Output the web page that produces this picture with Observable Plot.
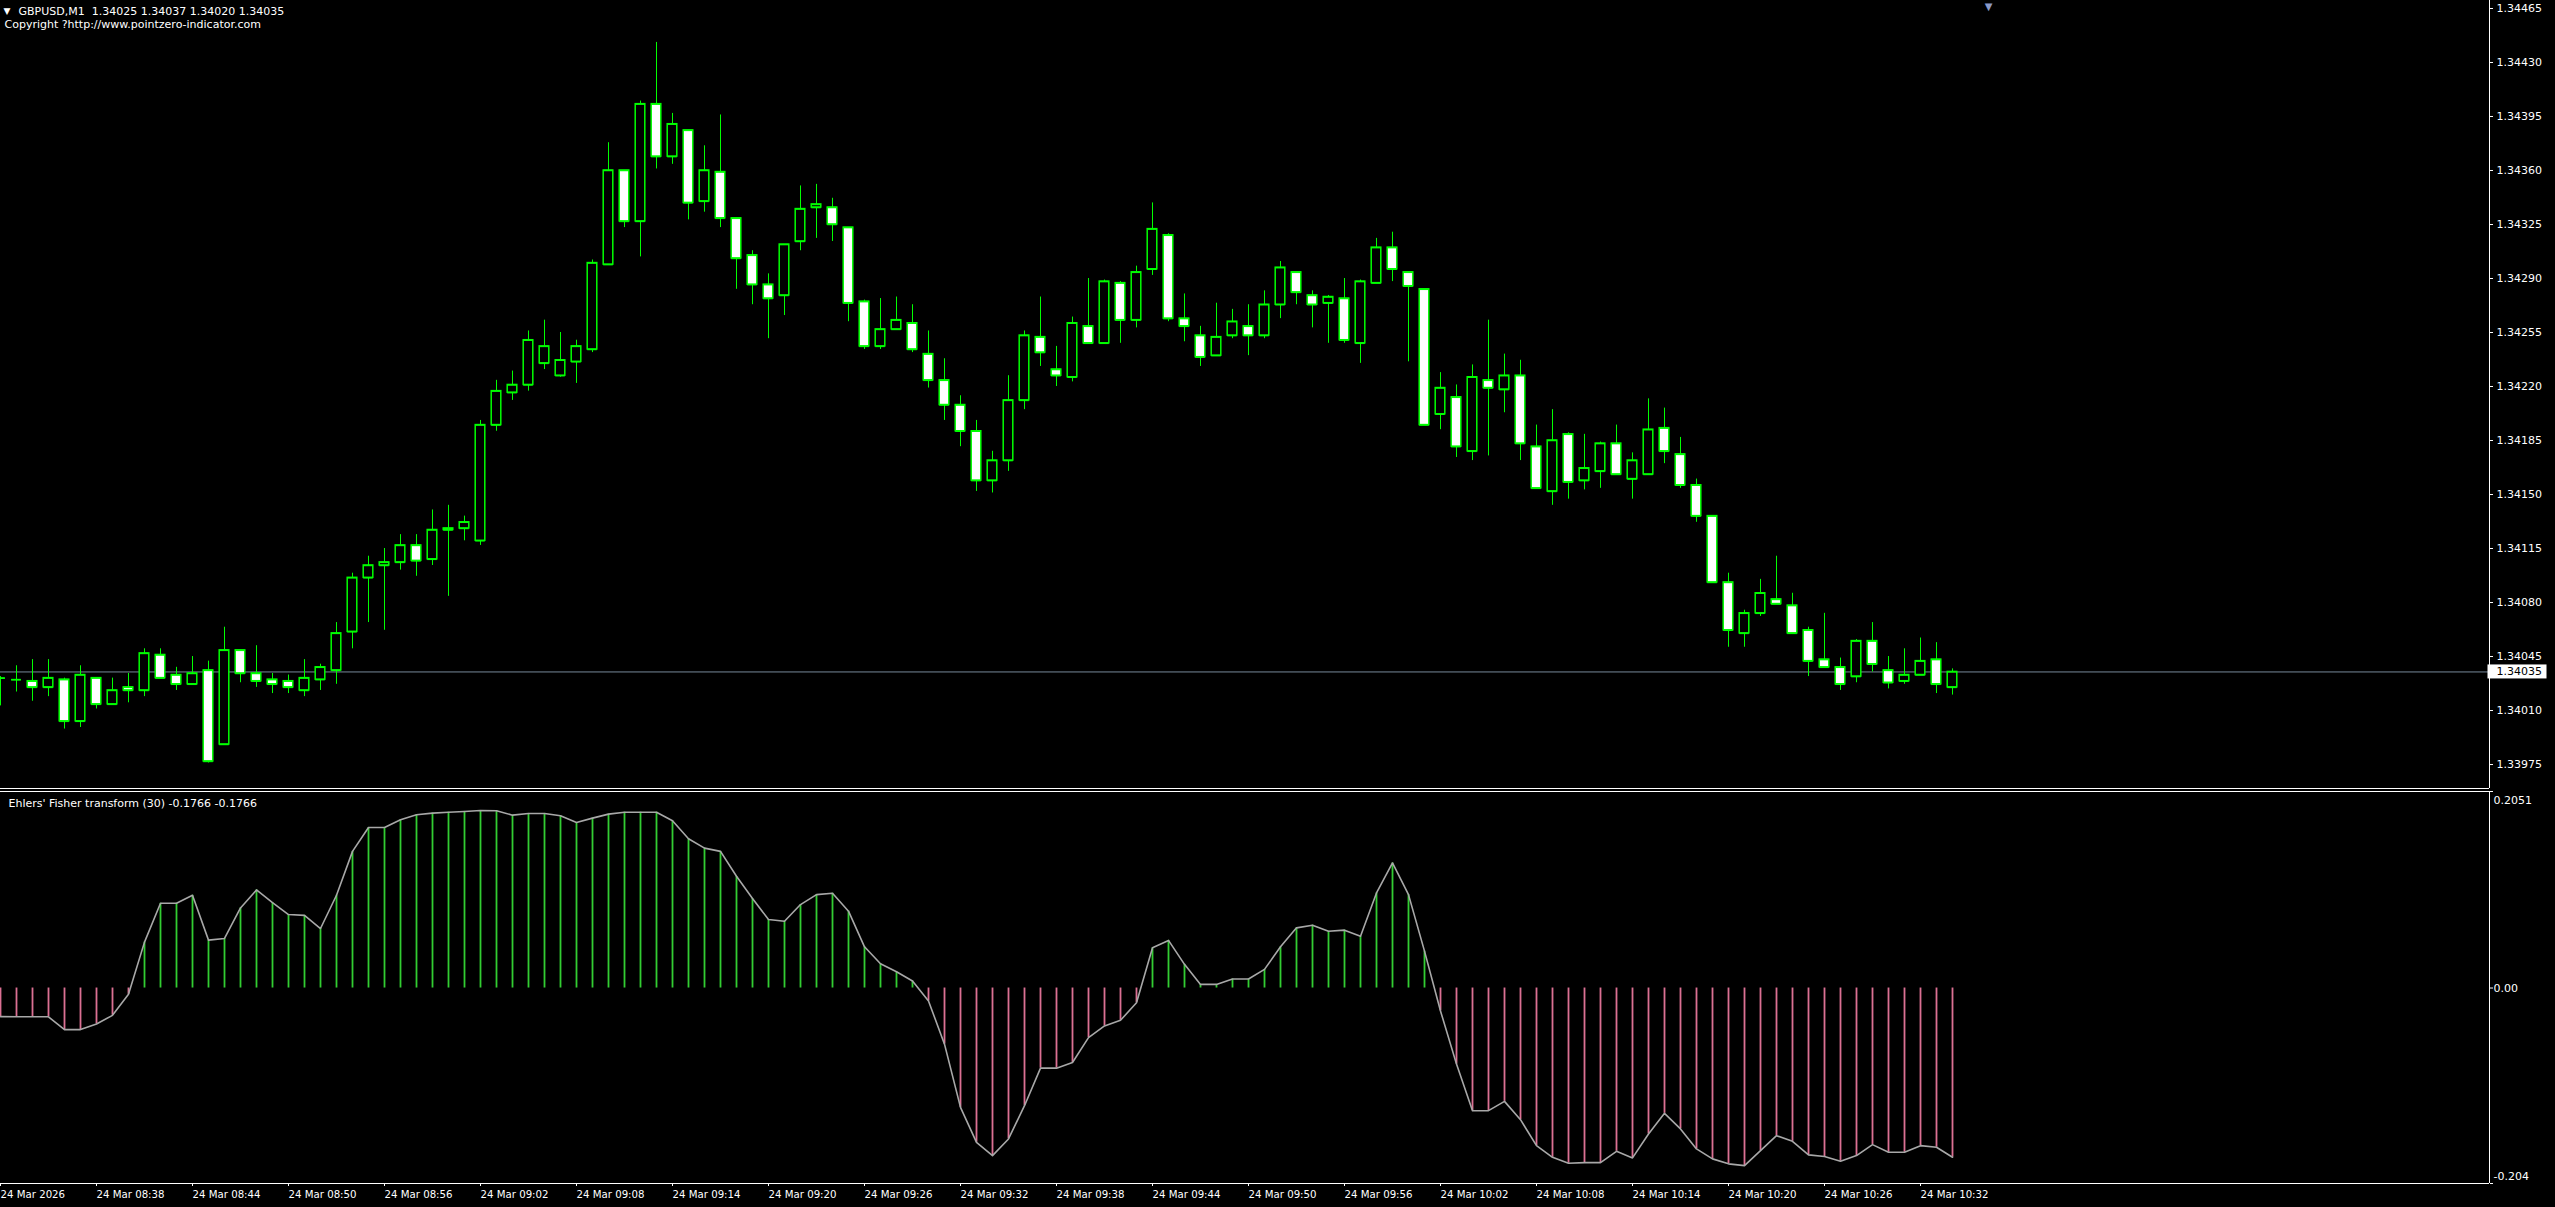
<!DOCTYPE html>
<html><head><meta charset="utf-8">
<script src="https://cdn.jsdelivr.net/npm/d3@7"></script>
<script src="https://cdn.jsdelivr.net/npm/@observablehq/plot@0.6"></script>
<style>
html,body{margin:0;padding:0;background:#000;}
#chart{position:relative;width:2555px;height:1207px;background:#000;overflow:hidden;}
#chart > div{position:absolute;left:0;}
#chart svg{display:block;}
</style></head><body><div id="chart"><div id="p1" style="top:0"></div><div id="p2" style="top:789px"></div></div>
<script>
// ---- data (GBPUSD M1, 24 Mar 2026, bars from 08:32 to 10:34) ----
const open = [1.34031,1.34030,1.34029,1.34025,1.34030,1.34003,1.34031,1.34014,1.34025,1.34023,
1.34046,1.34033,1.34027,1.34036,1.33988,1.34049,1.34034,1.34030,1.34029,1.34023,
1.34030,1.34036,1.34061,1.34096,1.34104,1.34106,1.34117,1.34108,1.34127,1.34128,
1.34120,1.34195,1.34216,1.34221,1.34235,1.34227,1.34236,1.34244,1.34299,1.34360,
1.34327,1.34403,1.34369,1.34386,1.34340,1.34359,1.34329,1.34305,1.34286,1.34279,
1.34314,1.34336,1.34336,1.34323,1.34275,1.34246,1.34257,1.34261,1.34241,1.34224,
1.34208,1.34191,1.34159,1.34172,1.34211,1.34252,1.34231,1.34226,1.34259,1.34248,
1.34287,1.34263,1.34296,1.34318,1.34264,1.34253,1.34240,1.34253,1.34259,1.34253,
1.34273,1.34294,1.34279,1.34274,1.34277,1.34248,1.34287,1.34310,1.34294,1.34283,
1.34202,1.34213,1.34178,1.34224,1.34218,1.34227,1.34181,1.34152,1.34189,1.34159,
1.34165,1.34183,1.34160,1.34163,1.34193,1.34176,1.34156,1.34136,1.34093,1.34060,
1.34073,1.34082,1.34078,1.34062,1.34043,1.34038,1.34032,1.34055,1.34036,1.34029,
1.34033,1.34043,1.34025];
const high = [1.34032,1.34039,1.34043,1.34043,1.34031,1.34039,1.34031,1.34031,1.34034,1.34050,
1.34050,1.34038,1.34045,1.34042,1.34064,1.34049,1.34052,1.34034,1.34033,1.34043,
1.34040,1.34067,1.34099,1.34110,1.34115,1.34124,1.34124,1.34140,1.34143,1.34136,
1.34198,1.34224,1.34230,1.34256,1.34263,1.34255,1.34250,1.34302,1.34378,1.34360,
1.34405,1.34443,1.34397,1.34386,1.34376,1.34396,1.34329,1.34308,1.34293,1.34312,
1.34350,1.34351,1.34342,1.34323,1.34276,1.34277,1.34278,1.34273,1.34256,1.34238,
1.34214,1.34198,1.34178,1.34227,1.34256,1.34278,1.34246,1.34265,1.34290,1.34289,
1.34288,1.34298,1.34339,1.34319,1.34280,1.34259,1.34274,1.34270,1.34273,1.34282,
1.34301,1.34294,1.34282,1.34279,1.34290,1.34289,1.34316,1.34320,1.34294,1.34283,
1.34229,1.34221,1.34234,1.34263,1.34241,1.34237,1.34195,1.34205,1.34190,1.34189,
1.34184,1.34195,1.34177,1.34212,1.34206,1.34187,1.34160,1.34136,1.34099,1.34075,
1.34095,1.34110,1.34086,1.34064,1.34073,1.34044,1.34056,1.34067,1.34045,1.34050,
1.34057,1.34054,1.34037];
const low = [1.34013,1.34022,1.34016,1.34019,1.33998,1.33999,1.34011,1.34014,1.34015,1.34019,
1.34031,1.34023,1.34027,1.33976,1.33988,1.34028,1.34025,1.34021,1.34021,1.34019,
1.34023,1.34027,1.34050,1.34067,1.34062,1.34101,1.34097,1.34104,1.34084,1.34120,
1.34117,1.34191,1.34211,1.34217,1.34231,1.34226,1.34222,1.34242,1.34299,1.34323,
1.34304,1.34361,1.34364,1.34328,1.34333,1.34323,1.34283,1.34273,1.34251,1.34266,
1.34308,1.34316,1.34314,1.34262,1.34244,1.34244,1.34257,1.34242,1.34219,1.34198,
1.34181,1.34152,1.34151,1.34165,1.34205,1.34233,1.34220,1.34223,1.34248,1.34248,
1.34248,1.34258,1.34292,1.34262,1.34249,1.34233,1.34240,1.34251,1.34240,1.34251,
1.34264,1.34273,1.34258,1.34248,1.34248,1.34235,1.34287,1.34288,1.34236,1.34195,
1.34192,1.34174,1.34172,1.34175,1.34203,1.34172,1.34154,1.34143,1.34147,1.34153,
1.34154,1.34163,1.34147,1.34163,1.34170,1.34154,1.34132,1.34093,1.34051,1.34051,
1.34071,1.34079,1.34060,1.34032,1.34038,1.34023,1.34028,1.34035,1.34024,1.34027,
1.34033,1.34021,1.34020];
const close = [1.34031,1.34030,1.34025,1.34031,1.34003,1.34033,1.34014,1.34023,1.34023,1.34047,
1.34031,1.34027,1.34034,1.33977,1.34049,1.34034,1.34029,1.34027,1.34025,1.34031,
1.34038,1.34060,1.34096,1.34104,1.34106,1.34117,1.34107,1.34127,1.34128,1.34132,
1.34195,1.34217,1.34221,1.34250,1.34246,1.34237,1.34246,1.34300,1.34360,1.34327,
1.34403,1.34369,1.34390,1.34339,1.34360,1.34329,1.34303,1.34286,1.34277,1.34312,
1.34335,1.34338,1.34325,1.34274,1.34246,1.34257,1.34263,1.34244,1.34224,1.34208,
1.34191,1.34159,1.34172,1.34211,1.34253,1.34242,1.34227,1.34261,1.34248,1.34288,
1.34263,1.34294,1.34322,1.34264,1.34259,1.34239,1.34252,1.34262,1.34253,1.34273,
1.34297,1.34281,1.34273,1.34278,1.34250,1.34288,1.34310,1.34296,1.34285,1.34195,
1.34219,1.34181,1.34226,1.34219,1.34227,1.34183,1.34154,1.34185,1.34158,1.34167,
1.34183,1.34163,1.34172,1.34192,1.34178,1.34156,1.34136,1.34093,1.34062,1.34073,
1.34086,1.34079,1.34060,1.34042,1.34038,1.34027,1.34055,1.34040,1.34028,1.34033,
1.34042,1.34027,1.34035];
const fisher = [-0.0298,-0.0300,-0.0300,-0.0300,-0.0434,-0.0434,-0.0375,-0.0285,-0.0066,0.0479,
0.0885,0.0885,0.0968,0.0500,0.0517,0.0836,0.1024,0.0892,0.0767,0.0758,
0.0621,0.0968,0.1426,0.1676,0.1676,0.1756,0.1808,0.1825,0.1835,0.1843,
0.1853,0.1850,0.1804,0.1822,0.1822,0.1798,0.1728,0.1773,0.1815,0.1835,
0.1835,0.1835,0.1745,0.1558,0.1460,0.1426,0.1166,0.0934,0.0715,0.0697,
0.0871,0.0975,0.0989,0.0802,0.0430,0.0253,0.0170,0.0073,-0.0135,-0.0586,
-0.1246,-0.1610,-0.1749,-0.1575,-0.1228,-0.0836,-0.0836,-0.0777,-0.0517,-0.0396,
-0.0337,-0.0153,0.0420,0.0497,0.0247,0.0038,0.0038,0.0094,0.0094,0.0195,
0.0430,0.0628,0.0656,0.0593,0.0604,0.0541,0.0992,0.1305,0.0975,0.0385,
-0.0239,-0.0794,-0.1280,-0.1280,-0.1183,-0.1374,-0.1645,-0.1767,-0.1829,-0.1822,
-0.1822,-0.1704,-0.1773,-0.1523,-0.1308,-0.1470,-0.1679,-0.1783,-0.1835,-0.1853,
-0.1697,-0.1541,-0.1600,-0.1741,-0.1759,-0.1808,-0.1749,-0.1634,-0.1714,-0.1714,
-0.1645,-0.1662,-0.1766];
const priceTicks = [1.34465,1.34430,1.34395,1.34360,1.34325,1.34290,1.34255,1.34220,1.34185,1.34150,1.34115,1.34080,1.34045,1.34010,1.33975];
const xTickBars = [0,6,12,18,24,30,36,42,48,54,60,66,72,78,84,90,96,102,108,114,120];
const xTickLabels = ["24 Mar 2026","24 Mar 08:38","24 Mar 08:44","24 Mar 08:50","24 Mar 08:56","24 Mar 09:02","24 Mar 09:08","24 Mar 09:14","24 Mar 09:20","24 Mar 09:26","24 Mar 09:32","24 Mar 09:38","24 Mar 09:44","24 Mar 09:50","24 Mar 09:56","24 Mar 10:02","24 Mar 10:08","24 Mar 10:14","24 Mar 10:20","24 Mar 10:26","24 Mar 10:32"];
const indTicks = [0.2051, 0, -0.204];
const indTickLabels = ["0.2051", "0.00", "-0.204"];
const headerText = "GBPUSD,M1\u00a0\u00a01.34025 1.34037 1.34020 1.34035";
const copyrightText = "Copyright ?http://www.pointzero-indicator.com";
const indicatorText = "Ehlers' Fisher transform (30) -0.1766 -0.1766";

// ---- view settings ----
const visibleBars = 155.5625;          // bars that fit the chart window
const priceDomain = [1.3395946, 1.3447018];
const indDomain = [-0.204, 0.2051];
const xDomain = [0, visibleBars];
const xMax = visibleBars;
const W = 0.3;
const LIME = "#00ff00";
const font = "DejaVu Sans";

const bars = open.map((o, i) => ({i, o, h: high[i], l: low[i], c: close[i]}));
const bull = bars.filter(d => d.c >= d.o);
const bear = bars.filter(d => d.c < d.o);
const lastClose = close[close.length - 1];
const fis = fisher.map((v, i) => ({i, v}));
const labelMap = new Map(xTickBars.map((b, k) => [b, xTickLabels[k]]));

const main = Plot.plot({
  width: 2555, height: 789, marginTop: 0, marginBottom: 1, marginLeft: 0, marginRight: 66,
  style: {background: "#000", color: "#fff", fontFamily: font, fontSize: "11px"},
  x: {domain: xDomain, axis: null},
  y: {domain: priceDomain, axis: null},
  marks: [
    Plot.ruleY([lastClose], {stroke: "#778899", strokeWidth: 1}),
    Plot.ruleX(bars, {x: "i", y1: "l", y2: "h", stroke: LIME, strokeWidth: 1}),
    Plot.rect(bull, {x1: d => d.i - W, x2: d => d.i + W, y1: "o", y2: "c", fill: "#000", stroke: LIME, strokeWidth: 1.5}),
    Plot.rect(bear, {x1: d => d.i - W, x2: d => d.i + W, y1: "o", y2: "c", fill: "#fff", stroke: LIME, strokeWidth: 1.5}),
    Plot.ruleY(bars, {y: "o", x1: d => d.i - W, x2: d => d.i + W, stroke: LIME, strokeWidth: 1.5}),
    Plot.ruleY(bars, {y: "c", x1: d => d.i - W, x2: d => d.i + W, stroke: LIME, strokeWidth: 1.5}),
    Plot.ruleX([xMax], {stroke: "#fff", strokeWidth: 1}),
    Plot.ruleY([priceDomain[0]], {stroke: "#fff", strokeWidth: 1}),
    Plot.axisY(priceTicks, {anchor: "right", tickSize: 3, tickPadding: 4, tickFormat: d => d.toFixed(5), stroke: "#fff", fill: "#fff", fontSize: 11, label: null}),
    Plot.rect([lastClose], {x1: xMax, x2: xMax, y1: d => d, y2: d => d, insetLeft: -1.5, insetRight: -57.5, insetTop: -7, insetBottom: -7, fill: "#fff"}),
    Plot.text([lastClose], {x: xMax, y: d => d, text: d => d.toFixed(5), dx: 7, textAnchor: "start", fill: "#000", fontSize: 11}),
    Plot.text(["\u25bc"], {frameAnchor: "top-left", dx: 6.5, dy: 7, fill: "#fff", fontSize: 9, textAnchor: "middle"}),
    Plot.text([headerText], {frameAnchor: "top-left", dx: 18, dy: 7, textAnchor: "start", fill: "#fff", fontSize: 11}),
    Plot.text([copyrightText], {frameAnchor: "top-left", dx: 4, dy: 20, textAnchor: "start", fill: "#fff", fontSize: 11}),
    Plot.text(["\u25bc"], {x: bars.length + 1, frameAnchor: "top", dx: 4, dy: 2, fill: "#8a9ac8", fontSize: 10, textAnchor: "middle"})
  ]
});
document.getElementById("p1").append(main);

const ind = Plot.plot({
  width: 2555, height: 418, marginTop: 2, marginBottom: 24, marginLeft: 0, marginRight: 66,
  style: {background: "#000", color: "#fff", fontFamily: font, fontSize: "11px"},
  x: {domain: xDomain, axis: null},
  y: {domain: indDomain, axis: null},
  marks: [
    Plot.ruleX(fis.filter(d => d.v >= 0), {x: "i", y1: 0, y2: "v", stroke: "#32cd32", strokeWidth: 1.8}),
    Plot.ruleX(fis.filter(d => d.v < 0), {x: "i", y1: 0, y2: "v", stroke: "#db7093", strokeWidth: 1.8}),
    Plot.line(fis, {x: "i", y: "v", stroke: "#a8a8a8", strokeWidth: 1.6}),
    Plot.ruleY([indDomain[1]], {stroke: "#fff", strokeWidth: 1}),
    Plot.ruleY([indDomain[0]], {stroke: "#fff", strokeWidth: 1}),
    Plot.ruleX([xMax], {y1: indDomain[0], y2: indDomain[1], stroke: "#fff", strokeWidth: 1}),
    Plot.axisX(xTickBars, {anchor: "bottom", tickSize: 3, tickPadding: 4, tickFormat: d => labelMap.get(d), textAnchor: "start", stroke: "#fff", fill: "#fff", fontSize: 10.2, label: null}),
    Plot.axisY(indTicks, {anchor: "right", tickSize: 3, tickFormat: () => "", stroke: "#fff", label: null}),
    Plot.text([0], {x: xMax, y: () => indTicks[0], text: () => indTickLabels[0], dx: 4, dy: 9, textAnchor: "start", fill: "#fff", fontSize: 11}),
    Plot.text([0], {x: xMax, y: () => indTicks[1], text: () => indTickLabels[1], dx: 4, dy: 0, textAnchor: "start", fill: "#fff", fontSize: 11}),
    Plot.text([0], {x: xMax, y: () => indTicks[2], text: () => indTickLabels[2], dx: 4, dy: -7, textAnchor: "start", fill: "#fff", fontSize: 11}),
    Plot.text([indicatorText], {frameAnchor: "top-left", dx: 8, dy: 8, textAnchor: "start", fill: "#fff", fontSize: 11})
  ]
});
document.getElementById("p2").append(ind);
</script></body></html>
